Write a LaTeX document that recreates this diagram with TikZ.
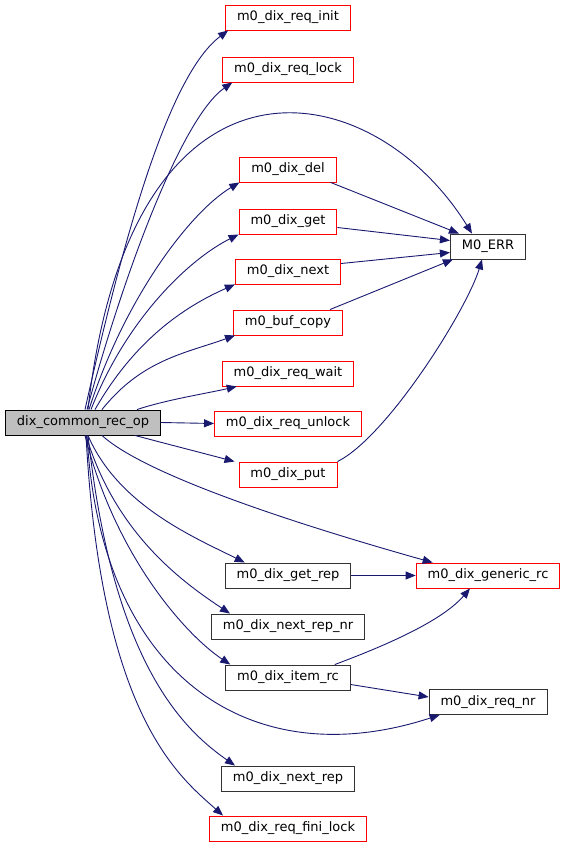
\documentclass[tikz,border=0pt]{standalone}
\usepackage{fontspec}
\setmainfont{DejaVu Sans}
\usetikzlibrary{arrows.meta}

\definecolor{edgeblue}{HTML}{191970}
\definecolor{callergray}{HTML}{BFBFBF}

\begin{document}
\begin{tikzpicture}[x=1pt, y=-1pt,
  every node/.style={font=\fontsize{13}{15}\selectfont, draw, line width=0.9pt,
    minimum height=25pt, inner xsep=11.5pt, inner ysep=0pt},
  caller/.style={fill=callergray, draw=black},
  fn/.style={draw=black!80},
  fnred/.style={draw=red},
  call/.style={draw=edgeblue, line width=0.9pt, -{Triangle[length=10pt,width=8pt]}, fill=none}]
  \useasboundingbox (0,0) rectangle (565,848);

  % caller
  \node[caller] (op) at (83,422.5) {dix\_common\_rec\_op};

  % callees
  \node[fnred] (init)   at (288,17.5)  {m0\_dix\_req\_init};
  \node[fnred] (lock)   at (288,69.5)  {m0\_dix\_req\_lock};
  \node[fnred] (del)    at (288,169.5) {m0\_dix\_del};
  \node[fnred] (get)    at (288,221.5) {m0\_dix\_get};
  \node[fnred] (next)   at (288,271.5) {m0\_dix\_next};
  \node[fnred] (buf)    at (288,322.5) {m0\_buf\_copy};
  \node[fnred] (wait)   at (288,373.5) {m0\_dix\_req\_wait};
  \node[fnred] (unlock) at (288,423.5) {m0\_dix\_req\_unlock};
  \node[fnred] (put)    at (288,474.5) {m0\_dix\_put};
  \node[fn]    (err)    at (488,246.5) {M0\_ERR};
  \node[fn]    (getrep) at (288,575.5) {m0\_dix\_get\_rep};
  \node[fn]    (nextnr) at (288,626.5) {m0\_dix\_next\_rep\_nr};
  \node[fn]    (item)   at (288,677.5) {m0\_dix\_item\_rc};
  \node[fn]    (nextrep) at (288,778.5) {m0\_dix\_next\_rep};
  \node[fnred] (fini)   at (288,828.5) {m0\_dix\_req\_fini\_lock};
  \node[fnred] (generic) at (488,575.5) {m0\_dix\_generic\_rc};
  \node[fn]    (reqnr)  at (488,702)   {m0\_dix\_req\_nr};

  % upward calls
  \draw[call] ([xshift=2pt]op.north) .. controls +(38,-170) and +(-60,45) .. ([xshift=3pt]init.south west);
  \draw[call] ([xshift=4pt]op.north) .. controls +(38,-140) and +(-50,35) .. ([xshift=10pt]lock.south west);
  \draw[call] ([xshift=5pt]op.north) .. controls +(42,-380) and +(-102,-164) .. ([xshift=-16pt]err.north);
  \draw[call] ([xshift=6pt]op.north) .. controls +(35,-110) and +(-50,30) .. (del.south west);
  \draw[call] ([xshift=8pt]op.north) .. controls +(35,-90) and +(-50,25) .. (get.south west);
  \draw[call] ([xshift=12pt]op.north) .. controls +(40,-70) and +(-50,22) .. (next.south west);
  \draw[call] ([xshift=19pt]op.north) .. controls +(40,-50) and +(-50,18) .. ([xshift=2pt]buf.south west);
  \draw[call] ([xshift=54pt]op.north) .. controls +(30,-10) and +(-30,7) .. ([xshift=15pt]wait.south west);
  \draw[call] (op.east) -- (unlock.west);
  \draw[call] ([xshift=52pt]op.south) .. controls +(30,8) and +(-30,-8) .. ([xshift=-4pt]put.north west);

  % downward calls
  \draw[call] ([xshift=19pt]op.south) .. controls +(48,44) and +(-103,-29) .. ([xshift=17pt]generic.north west);
  \draw[call] ([xshift=5pt]op.south) .. controls +(30,70) and +(-50,-25) .. ([xshift=20pt]getrep.north west);
  \draw[call] ([xshift=3pt]op.south) .. controls +(30,100) and +(-45,-30) .. ([xshift=19pt]nextnr.north west);
  \draw[call] ([xshift=2pt]op.south) .. controls +(30,120) and +(-45,-30) .. ([xshift=5pt]item.north west);
  \draw[call] ([xshift=4pt]op.south) .. controls +(13,240) and +(-190,62) .. ([xshift=11pt]reqnr.south west);
  \draw[call] ([xshift=5pt]op.south) .. controls +(25,230) and +(-50,-35) .. ([xshift=14pt]nextrep.north west);
  \draw[call] ([xshift=3pt]op.south) .. controls +(15,280) and +(-45,-40) .. ([xshift=14pt]fini.north west);

  % calls into M0_ERR
  \draw[call] ([xshift=-6pt]del.south east) -- ([xshift=9pt]err.north west);
  \draw[call] ([yshift=-6pt]get.east) -- ([yshift=6pt]err.west);
  \draw[call] ([yshift=8pt]next.east) -- ([yshift=-6pt]err.west);
  \draw[call] ([xshift=-13pt]buf.north east) -- ([xshift=3pt]err.south west);
  \draw[call] (put.north east) .. controls +(50,-25) and +(-15,50) .. ([xshift=-6pt]err.south);

  % remaining calls
  \draw[call] (getrep.east) -- (generic.west);
  \draw[call] ([xshift=-16pt]item.north east) .. controls +(40,-15) and +(-30,35) .. ([xshift=-18pt]generic.south);
  \draw[call] ([yshift=-7pt]item.east) -- ([yshift=5pt]reqnr.west);
\end{tikzpicture}
\end{document}
